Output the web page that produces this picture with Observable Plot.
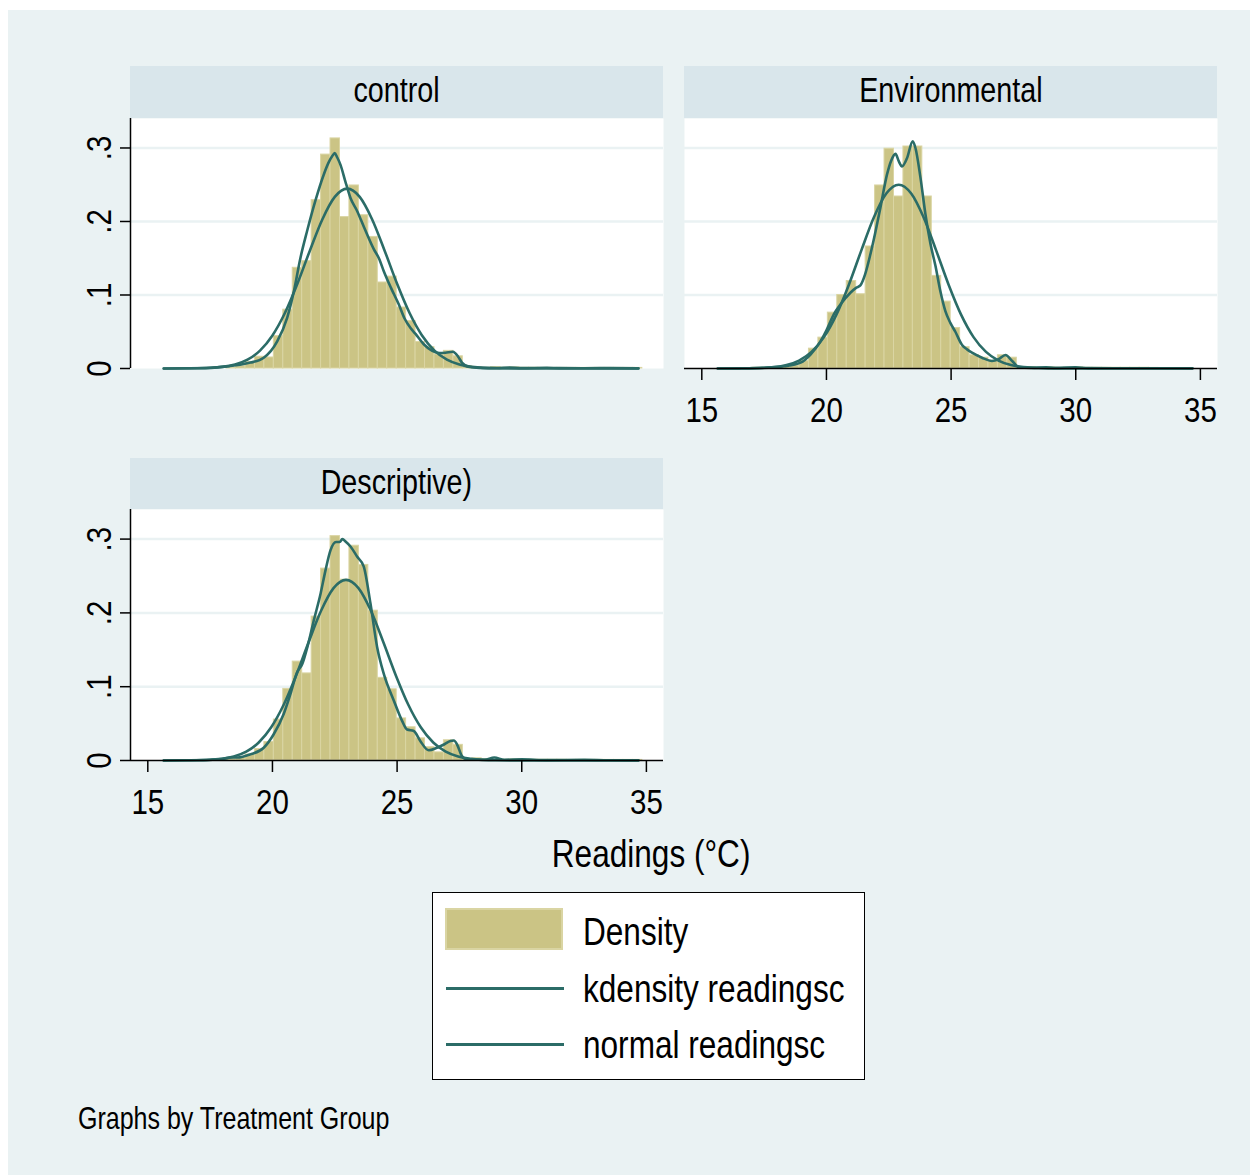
<!DOCTYPE html>
<html>
<head>
<meta charset="utf-8">
<script src="https://cdn.jsdelivr.net/npm/d3@7"></script>
<script src="https://cdn.jsdelivr.net/npm/@observablehq/plot@0.6"></script>
<style>
  html, body { margin: 0; padding: 0; }
  body { width: 1255px; height: 1175px; overflow: hidden; position: relative; background: #ffffff;
         font-family: "Liberation Sans", Arial, sans-serif; }
  #bg { position: absolute; left: 8px; top: 10px; width: 1242px; height: 1165px; background: #EAF2F3; }
  .strip { position: absolute; background: #D9E6EB; color: #000; font-size: 35px;
           display: flex; align-items: center; justify-content: center; }
  .strip span { position: relative; top: -2px; }
  .nc { display: inline-block; transform: scaleX(0.82); transform-origin: center center; white-space: nowrap; }
  .nl { display: inline-block; transform: scaleX(0.82); transform-origin: left center; white-space: nowrap; }
  .panel { position: absolute; }
  .panel svg { overflow: visible; }
  #xtitle { position: absolute; left: 451px; width: 400px; top: 831px; text-align: center; font-size: 38.5px; line-height: 46px; }
  #legend { position: absolute; left: 432px; top: 892px; width: 431px; height: 186px; background: #fff; border: 1.5px solid #000; }
  .sw { position: absolute; left: 12px; top: 15px; width: 114px; height: 38px; background: #CBC485; border: 2px solid #DAD5A3; }
  .ln { position: absolute; left: 13px; width: 118px; height: 3px; background: #2B6C67; }
  .lt { position: absolute; left: 150px; font-size: 38.5px; line-height: 44px; white-space: nowrap; }
  #caption { position: absolute; left: 78px; top: 1100px; font-size: 30.5px; line-height: 36px; white-space: nowrap; }
</style>
</head>
<body>
<div id="bg"></div>
<script>
// ---- data ----
const panelTitles = ["control", "Environmental", "Descriptive)"];
const xTicks = [15, 20, 25, 30, 35];
const yTicks = [0, 0.1, 0.2, 0.3];
const yTickLabels = ["0", ".1", ".2", ".3"];
const binStart = 15.508;
const binWidth = 0.379;

const controlDensity = [0,0,0,0,0,0,0,0.001,0.003,0.009,0.016,0.015,0.044,0.080,0.137,0.146,0.229,0.291,0.313,0.206,0.249,0.2085,0.179,0.117,0.125,0.083,0.0645,0.036,0.029,0.019,0.024,0.0166,0.003,0.0015,0.001,0.002,0.001,0.0015,0.001,0.001,0.0008,0.0008,0.0008,0.0008,0.0008,0.0008,0.0008,0.0008,0.0008,0.0008,0.0008];
const environmentalDensity = [0,0,0,0,0.001,0.001,0.0005,0.002,0.004,0.010,0.027,0.042,0.076,0.100,0.119,0.101,0.166,0.249,0.299,0.234,0.302,0.302,0.234,0.126,0.091,0.055,0.029,0.018,0.0147,0.0105,0.018,0.0147,0.002,0.002,0.001,0.0015,0.001,0.001,0.0015,0.001,0.001,0.001,0.001,0.001,0.001,0.001,0.0008,0,0,0,0];
const descriptiveDensity = [0,0,0,0,0,0.0005,0.001,0.002,0.004,0.008,0.0155,0.025,0.0555,0.097,0.134,0.118,0.195,0.260,0.304,0.245,0.291,0.265,0.203,0.112,0.0965,0.057,0.045,0.030,0.018,0.011,0.0274,0.0212,0.002,0.003,0.002,0.001,0.001,0.0015,0.001,0.001,0.001,0.001,0.001,0.0008,0.0008,0.0008,0.0008,0.0008,0.0008,0.0008,0.0008];

const controlKdensity = [[15.64,0],[16.5,0.0003],[17.5,0.001],[18.2,0.003],[18.7,0.005],[19.12,0.008],[19.65,0.0147],[20.19,0.037],[20.59,0.069],[20.86,0.105],[21.12,0.15],[21.39,0.187],[21.72,0.228],[22.06,0.264],[22.25,0.280],[22.4,0.289],[22.5,0.293],[22.6,0.287],[22.73,0.277],[22.92,0.255],[23.13,0.232],[23.4,0.214],[23.7,0.19],[24.07,0.162],[24.27,0.150],[24.47,0.132],[24.75,0.110],[25.07,0.087],[25.3,0.068],[25.54,0.055],[25.74,0.047],[26.07,0.033],[26.41,0.024],[26.7,0.021],[26.94,0.0215],[27.24,0.0228],[27.45,0.016],[27.6,0.008],[27.9,0.002],[28.3,0.0008],[29.0,0.0005],[29.5,0.0012],[30.0,0.0005],[31.0,0.001],[31.5,0.0005],[32.5,0.0003],[33.5,0.0005],[34.68,0.0002]];
const controlNormal = [[15.64,0],[16,0.00002],[17,0.0003],[18,0.0022],[18.5,0.0054],[19,0.012],[19.5,0.0244],[20,0.045],[20.5,0.0755],[21,0.1153],[21.5,0.1603],[22,0.2028],[22.5,0.2335],[23,0.2447],[23.5,0.2335],[24,0.2028],[24.5,0.1603],[25,0.1153],[25.5,0.0755],[26,0.045],[26.5,0.0244],[27,0.012],[27.5,0.0054],[28,0.0022],[29,0.0003],[30,0],[34.68,0]];

const environmentalKdensity = [[15.64,0],[16.5,0.0002],[17.5,0.001],[18.3,0.003],[18.96,0.008],[19.36,0.019],[19.76,0.037],[20.0,0.052],[20.16,0.064],[20.3,0.074],[20.56,0.087],[20.96,0.103],[21.2,0.110],[21.36,0.113],[21.55,0.128],[21.76,0.155],[21.96,0.185],[22.16,0.218],[22.43,0.264],[22.6,0.283],[22.77,0.292],[22.9,0.282],[23.03,0.275],[23.23,0.286],[23.46,0.309],[23.57,0.30],[23.77,0.26],[23.97,0.21],[24.17,0.17],[24.37,0.14],[24.57,0.105],[24.77,0.078],[24.97,0.062],[25.17,0.050],[25.44,0.032],[25.64,0.026],[25.84,0.0215],[26.24,0.0147],[26.64,0.0102],[26.9,0.0125],[27.18,0.0183],[27.45,0.0102],[27.71,0.002],[28.2,0.0008],[28.8,0.0015],[29.2,0.0008],[30.0,0.0015],[30.5,0.0005],[31.5,0.0003],[33,0.0003],[34.68,0.0002]];
const environmentalNormal = [[15.64,0],[16.9,0.0002],[17.9,0.0019],[18.4,0.0047],[18.9,0.0108],[19.4,0.0226],[19.9,0.0427],[20.4,0.0733],[20.9,0.114],[21.4,0.1607],[21.9,0.2054],[22.4,0.238],[22.9,0.25],[23.4,0.238],[23.9,0.2054],[24.4,0.1607],[24.9,0.114],[25.4,0.0733],[25.9,0.0427],[26.4,0.0226],[26.9,0.0108],[27.4,0.0047],[27.9,0.0019],[28.9,0.0002],[30,0],[34.68,0]];

const descriptiveKdensity = [[15.64,0],[16.5,0.0003],[17.5,0.001],[18.0,0.002],[18.3,0.004],[18.6,0.004],[19.11,0.0083],[19.65,0.0173],[20.05,0.0356],[20.45,0.063],[20.72,0.090],[20.99,0.1195],[21.2,0.131],[21.4,0.1536],[21.66,0.19],[21.93,0.226],[22.13,0.258],[22.33,0.285],[22.55,0.296],[22.7,0.296],[22.8,0.300],[22.95,0.296],[23.13,0.29],[23.4,0.276],[23.66,0.263],[23.93,0.213],[24.2,0.1536],[24.47,0.117],[24.87,0.081],[25.2,0.0537],[25.4,0.042],[25.67,0.040],[25.93,0.0264],[26.27,0.0138],[26.6,0.0173],[26.9,0.022],[27.14,0.0264],[27.28,0.027],[27.4,0.022],[27.6,0.006],[27.8,0.0015],[28.5,0.001],[28.9,0.004],[29.3,0.001],[30,0.0015],[31,0.0005],[32.5,0.0008],[33.5,0.0003],[34.68,0.0002]];
const descriptiveNormal = [[15.64,0],[16.95,0.0003],[17.95,0.0022],[18.45,0.0054],[18.95,0.012],[19.45,0.0244],[19.95,0.045],[20.45,0.0755],[20.95,0.1153],[21.45,0.1603],[21.95,0.2028],[22.45,0.2335],[22.95,0.2447],[23.45,0.2335],[23.95,0.2028],[24.45,0.1603],[24.95,0.1153],[25.45,0.0755],[25.95,0.045],[26.45,0.0244],[26.95,0.012],[27.45,0.0054],[27.95,0.0022],[28.95,0.0003],[30,0],[34.68,0]];

const legendLabels = ["Density", "kdensity readingsc", "normal readingsc"];
const xTitle = "Readings (°C)";
const captionText = "Graphs by Treatment Group";

// ---- styles ----
const barFill = "#CBC485";
const barStroke = "#DAD5A3";
const lineColor = "#2B6C67";
const gridColor = "#EAF2F3";
const fontFamily = '"Liberation Sans", Arial, sans-serif';
const narrow = 0.82;

function condenseSvgText(svg) {
  svg.querySelectorAll("text").forEach(t => {
    let tr = t.getAttribute("transform") || "";
    const x = t.getAttribute("x");
    if (x !== null && x !== "" && !isNaN(+x)) { t.removeAttribute("x"); tr += ` translate(${x},0)`; }
    t.setAttribute("transform", (tr + ` scale(${narrow},1)`).trim());
  });
  return svg;
}

function makePanel(heights, kd, nm, showY, showX, plotHeight) {
  const bars = heights.map((h, i) => ({x1: binStart + i * binWidth, x2: binStart + (i + 1) * binWidth, y: h}));
  const kdRows = kd.map(([x, y]) => ({x, y}));
  const nmRows = nm.map(([x, y]) => ({x, y}));
  const marks = [
    Plot.frame({fill: "white", stroke: null}),
    Plot.ruleY([0.1, 0.2, 0.3], {stroke: gridColor, strokeWidth: 2.5}),
    Plot.rectY(bars, {x1: "x1", x2: "x2", y: "y", fill: barFill, stroke: barStroke, strokeWidth: 1}),
    Plot.line(kdRows, {x: "x", y: "y", stroke: lineColor, strokeWidth: 2.6, curve: "monotone-x"}),
    Plot.line(nmRows, {x: "x", y: "y", stroke: lineColor, strokeWidth: 2.6, curve: "monotone-x"})
  ];
  if (showY) {
    marks.push(Plot.ruleX([14.306], {stroke: "black", strokeWidth: 1.5}));
    marks.push(Plot.axisY({ticks: yTicks, tickSize: 10, tickFormat: () => "", label: null, stroke: "black", strokeWidth: 1.5}));
    marks.push(Plot.text(yTicks, {y: d => d, text: (d, i) => yTickLabels[i], frameAnchor: "left", dx: -31,
      rotate: -90, textAnchor: "middle", lineAnchor: "middle", fontSize: 36, fill: "black"}));
  }
  if (showX) {
    marks.push(Plot.ruleY([0], {stroke: "black", strokeWidth: 1.5}));
    marks.push(Plot.axisX({ticks: xTicks, tickSize: 12, tickPadding: 16, fontSize: 36, label: null, stroke: "black", strokeWidth: 1.5, tickFormat: d => String(d)}));
  }
  const svg = Plot.plot({
    width: 70 + 533,
    height: plotHeight + (showX ? 70 : 0),
    marginLeft: 70, marginRight: 0, marginTop: 0, marginBottom: showX ? 70 : 0,
    x: {domain: [14.306, 35.686], axis: null},
    y: {domain: [0, 0.3401], axis: null},
    style: {background: "transparent", fontFamily: fontFamily, color: "black", overflow: "visible"},
    marks
  });
  return condenseSvgText(svg);
}

function place(node, left, top) {
  const d = document.createElement("div");
  d.className = "panel";
  d.style.left = left + "px";
  d.style.top = top + "px";
  d.appendChild(node);
  document.body.appendChild(d);
}
function span(cls, text) {
  const s = document.createElement("span");
  s.className = cls;
  s.textContent = text;
  return s;
}
function strip(text, left, top, w, h) {
  const d = document.createElement("div");
  d.className = "strip";
  Object.assign(d.style, {left: left + "px", top: top + "px", width: w + "px", height: h + "px"});
  d.appendChild(span("nc", text));
  document.body.appendChild(d);
}

strip(panelTitles[0], 130, 66, 533, 52);
strip(panelTitles[1], 684, 66, 533, 52);
strip(panelTitles[2], 130, 458, 533, 51);

place(makePanel(controlDensity, controlKdensity, controlNormal, true, false, 250), 60, 118);
place(makePanel(environmentalDensity, environmentalKdensity, environmentalNormal, false, true, 250), 614, 118);
place(makePanel(descriptiveDensity, descriptiveKdensity, descriptiveNormal, true, true, 251), 60, 509);

// x title
const xt = document.createElement("div"); xt.id = "xtitle"; xt.appendChild(span("nc", xTitle)); document.body.appendChild(xt);

// legend
const lg = document.createElement("div"); lg.id = "legend";
const sw = document.createElement("div"); sw.className = "sw"; lg.appendChild(sw);
[94, 150].forEach(t => { const l = document.createElement("div"); l.className = "ln"; l.style.top = t + "px"; lg.appendChild(l); });
[17, 74, 130].forEach((t, i) => { const s = document.createElement("div"); s.className = "lt"; s.style.top = t + "px"; s.appendChild(span("nl", legendLabels[i])); lg.appendChild(s); });
document.body.appendChild(lg);

const cap = document.createElement("div"); cap.id = "caption"; cap.appendChild(span("nl", captionText)); document.body.appendChild(cap);
</script>
</body>
</html>
